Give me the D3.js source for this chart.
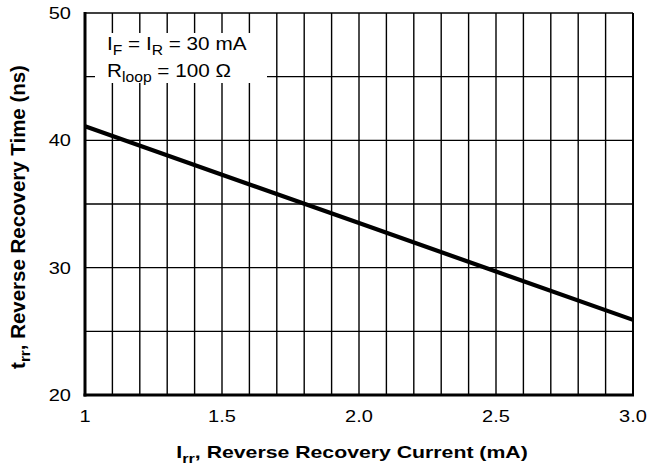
<!DOCTYPE html>
<html>
<head>
<meta charset="utf-8">
<script src="https://cdn.jsdelivr.net/npm/d3@7"></script>
<style>
  body { margin: 0; background: #fff; }
  svg { font-family: "Liberation Sans", Arial, Helvetica, sans-serif; }
</style>
</head>
<body>
<div id="chart"></div>
<script>
// chart data
const currentMA = [1.0, 1.5, 2.0, 2.5, 3.0];
const recoveryNs = [41.1, 37.3, 33.5, 29.7, 25.9];
const xTickValues = [1, 1.5, 2.0, 2.5, 3.0];
const xTickLabels = ["1", "1.5", "2.0", "2.5", "3.0"];
const yTickValues = [20, 30, 40, 50];

const width = 647;
const height = 470;
const margin = {left: 85, right: 14, top: 13, bottom: 75};
const stretch = 1.25; // the reference text is a bit wide

const svg = d3.select("#chart")
  .append("svg")
  .attr("width", width)
  .attr("height", height);

const x = d3.scaleLinear()
  .domain([1, 3])
  .range([margin.left, width - margin.right]);

const y = d3.scaleLinear()
  .domain([20, 50])
  .range([height - margin.bottom, margin.top]);

// grid
const xGrid = d3.range(10, 31).map(v => v / 10);
const yGrid = d3.range(20, 51, 5);

svg.append("g")
  .selectAll("line")
  .data(xGrid)
  .join("line")
    .attr("x1", d => x(d)).attr("x2", d => x(d))
    .attr("y1", y(20)).attr("y2", y(50))
    .attr("stroke", "#000")
    .attr("stroke-width", 1.4);

svg.append("g")
  .selectAll("line")
  .data(yGrid)
  .join("line")
    .attr("x1", x(1)).attr("x2", x(3))
    .attr("y1", d => y(d)).attr("y2", d => y(d))
    .attr("stroke", "#000")
    .attr("stroke-width", 1.4);

// white box behind the conditions note
svg.append("rect")
  .attr("x", 95).attr("y", 33)
  .attr("width", 172).attr("height", 50)
  .attr("fill", "#fff");

// frame
svg.append("line")
  .attr("x1", x(1)).attr("x2", x(1))
  .attr("y1", y(50) - 1).attr("y2", y(20) + 1.5)
  .attr("stroke", "#000").attr("stroke-width", 3);
svg.append("line")
  .attr("x1", x(1) - 1.5).attr("x2", x(3) + 1)
  .attr("y1", y(20)).attr("y2", y(20))
  .attr("stroke", "#000").attr("stroke-width", 3);
svg.append("line")
  .attr("x1", x(3)).attr("x2", x(3))
  .attr("y1", y(50)).attr("y2", y(20))
  .attr("stroke", "#000").attr("stroke-width", 2);

// the curve
const pts = currentMA.map((c, i) => [c, recoveryNs[i]]);
svg.append("path")
  .datum(pts)
  .attr("fill", "none")
  .attr("stroke", "#000")
  .attr("stroke-width", 4.2)
  .attr("d", d3.line().x(d => x(d[0])).y(d => y(d[1])));

// tick labels
svg.append("g")
  .selectAll("text")
  .data(xTickValues)
  .join("text")
    .attr("transform", d => `translate(${x(d)},422) scale(${stretch},1)`)
    .attr("text-anchor", "middle")
    .attr("font-size", 16)
    .text((d, i) => xTickLabels[i]);

svg.append("g")
  .selectAll("text")
  .data(yTickValues)
  .join("text")
    .attr("transform", d => `translate(71,${y(d) + 6}) scale(${stretch},1)`)
    .attr("text-anchor", "end")
    .attr("font-size", 16)
    .text(d => d);

// adds text with a subscript part: parts = [[text, isSub], ...]
function subText(sel, parts, size, subSize) {
  let low = false;
  parts.forEach(([t, sub]) => {
    const ts = sel.append("tspan").text(t);
    if (sub) { ts.attr("font-size", subSize); if (!low) ts.attr("dy", size * 0.28); low = true; }
    else if (low) { ts.attr("dy", -size * 0.28); low = false; }
  });
}

// axis titles
const xt = svg.append("text")
  .attr("transform", `translate(352,458) scale(${stretch},1)`)
  .attr("text-anchor", "middle")
  .attr("font-size", 17)
  .attr("font-weight", "bold");
subText(xt, [["I"], ["rr", true], [", Reverse Recovery Current (mA)"]], 17, 13);

const yt = svg.append("text")
  .attr("transform", `translate(25,217) rotate(-90) scale(1.05,1)`)
  .attr("text-anchor", "middle")
  .attr("font-size", 19.5)
  .attr("font-weight", "bold");
subText(yt, [["t"], ["rr", true], [", Reverse Recovery Time (ns)"]], 19.5, 14.5);

// conditions note
const n1 = svg.append("text")
  .attr("transform", "translate(107,50) scale(1.12,1)")
  .attr("font-size", 18.5);
subText(n1, [["I"], ["F", true], [" = I"], ["R", true], [" = 30 mA"]], 18.5, 14);

const n2 = svg.append("text")
  .attr("transform", "translate(107,77) scale(1.12,1)")
  .attr("font-size", 18.5);
subText(n2, [["R"], ["loop", true], [" = 100 \u03A9"]], 18.5, 14);
</script>
</body>
</html>
